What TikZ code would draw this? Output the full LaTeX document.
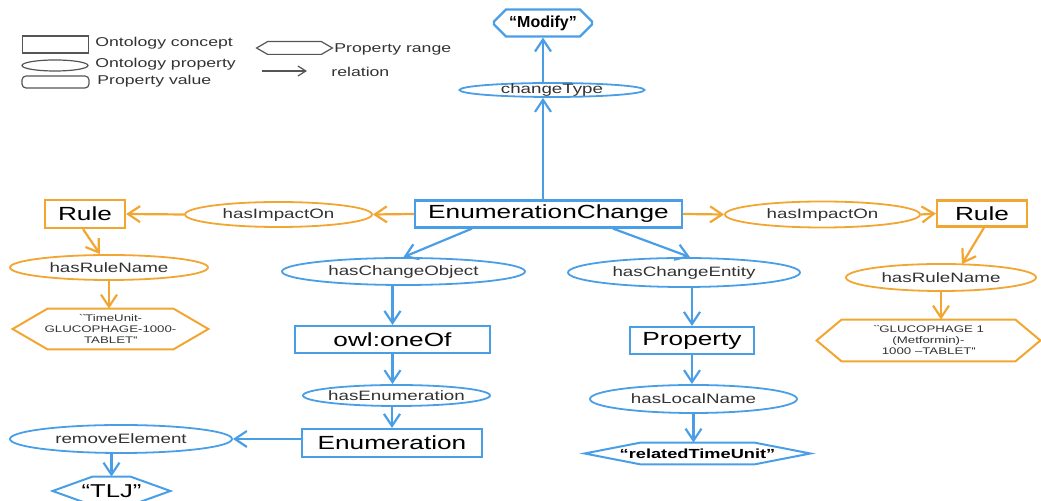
\documentclass[tikz,border=0pt]{standalone}
\usepackage{fontspec}
\setmainfont{Liberation Sans}[FakeStretch=1.38]
\newfontfamily\nostretch{Liberation Sans}
\usetikzlibrary{shapes.geometric,shapes.misc,arrows.meta,calc}
\definecolor{cblue}{RGB}{74,158,230}
\definecolor{corange}{RGB}{242,166,50}
\definecolor{cgray}{RGB}{85,85,85}
\definecolor{ctext}{RGB}{50,50,50}
\newcommand\fbig{\fontsize{9.5}{11}\selectfont}
\newcommand\fprop{\fontsize{6.8}{8}\selectfont}
\newcommand\fhexs{\fontsize{4.8}{5.5}\selectfont}
\newcommand\flegend{\fontsize{6.4}{7.5}\selectfont}
\newcommand\hexdraw[3]{\draw[#1] (#2.west) -- ([xshift=#3]#2.north west) -- ([xshift=-#3]#2.north east) -- (#2.east) -- ([xshift=-#3]#2.south east) -- ([xshift=#3]#2.south west) -- cycle;}
\tikzset{
  concept/.style={draw, rectangle, inner sep=0pt, line width=1.1pt, font=\fbig, text=black},
  bc/.style={concept, draw=cblue},
  oc/.style={concept, draw=corange},
  propE/.style={draw, ellipse, inner sep=0pt, line width=0.9pt},
  bp/.style={propE, draw=cblue},
  op/.style={propE, draw=corange},
  plab/.style={font=\fprop, text=ctext, inner sep=0pt},
  hexn/.style={rectangle, inner sep=0pt, align=center},
  barr/.style={draw=cblue, line width=1.1pt, -{Straight Barb[length=6pt,width=8pt]}},
  oarr/.style={draw=corange, line width=1.1pt, -{Straight Barb[length=6pt,width=8pt]}},
  legtext/.style={anchor=west, inner sep=0pt, font=\flegend, text=ctext},
  legshape/.style={draw=cgray, line width=0.6pt, inner sep=0pt},
}
\begin{document}
\begin{tikzpicture}[x=0.5pt,y=-0.5pt]
\useasboundingbox (0,0) rectangle (1041,501);

% ---------- legend ----------
\node[legshape, rectangle, minimum width=33pt, minimum height=8.5pt] (lgC) at (55.5,44.5) {};
\node[legtext] (lgCt) at (95,43) {Ontology concept};
\node[legshape, ellipse, minimum width=33pt, minimum height=5.5pt] (lgP) at (55,65.5) {};
\node[legtext] (lgPt) at (95,64.5) {Ontology property};
\node[legshape, rectangle, rounded corners=2pt, minimum width=33.5pt, minimum height=6pt] (lgV) at (55.5,82) {};
\node[legtext] (lgVt) at (97,81.5) {Property value};
\node[hexn, minimum width=37.5pt, minimum height=6pt] (lgR) at (294.5,48) {};
\hexdraw{draw=cgray, line width=0.6pt}{lgR}{5.5pt}
\node[legtext] (lgRt) at (334,49) {Property range};
\coordinate (lgA1) at (262,71);
\coordinate (lgA2) at (307,71);
\draw[draw=cgray, line width=0.6pt, -{Straight Barb[length=4pt,width=5pt]}] (lgA1) -- (lgA2);
\node[legtext] (lgAt) at (331,72) {relation};

% ---------- top ----------
\node[draw=cblue, line width=1.1pt, chamfered rectangle, chamfered rectangle xsep=3pt, chamfered rectangle ysep=3pt, inner sep=0pt, minimum width=49pt, minimum height=10pt, font=\nostretch\bfseries\fontsize{8}{9}\selectfont] (mod) at (543,23) {“Modify”};
\node[bp, minimum width=92.5pt, minimum height=7pt, label={[plab]center:changeType}] (ct) at (552,90) {};
\node[bc, minimum width=133.5pt, minimum height=13.5pt] (ec) at (548.5,214) {EnumerationChange};

% ---------- left rule branch ----------
\node[op, minimum width=93.5pt, minimum height=12.5pt, label={[plab]center:hasImpactOn}] (hioL) at (278.5,214.5) {};
\node[oc, minimum width=40pt, minimum height=14pt] (ruleL) at (85,214) {Rule};
\node[op, minimum width=99pt, minimum height=12.5pt, label={[plab]center:hasRuleName}] (hrnL) at (109,267.5) {};
\node[hexn, minimum width=97.5pt, minimum height=20pt, font=\fhexs, text=ctext] (hexL) at (110.5,329) {\textasciigrave\textasciigrave TimeUnit-\\GLUCOPHAGE-1000-\\TABLET\textquotesingle\textquotesingle};
\hexdraw{draw=corange, line width=1pt}{hexL}{17.5pt}

% ---------- right rule branch ----------
\node[op, minimum width=97.5pt, minimum height=13pt, label={[plab]center:hasImpactOn}] (hioR) at (822.5,214.5) {};
\node[oc, minimum width=45pt, minimum height=13pt] (ruleR) at (982,213.5) {Rule};
\node[op, minimum width=95pt, minimum height=13.5pt, label={[plab]center:hasRuleName}] (hrnR) at (941,277.5) {};
\node[hexn, minimum width=111.5pt, minimum height=20.5pt, font=\fhexs, text=ctext] (hexR) at (928.5,340.5) {\textasciigrave\textasciigrave GLUCOPHAGE 1\\(Metformin)-\\1000 –TABLET\textquotesingle\textquotesingle};
\hexdraw{draw=corange, line width=1pt}{hexR}{12.5pt}

% ---------- object branch ----------
\node[bp, minimum width=121.5pt, minimum height=13.5pt, label={[plab]center:hasChangeObject}] (hco) at (403.5,271.5) {};
\node[bc, minimum width=97.5pt, minimum height=13.5pt] (oneOf) at (392.5,339.5) {owl:oneOf};
\node[bp, minimum width=93.5pt, minimum height=10.5pt, label={[plab]center:hasEnumeration}] (hen) at (396.5,395.5) {};
\node[bc, minimum width=90pt, minimum height=14pt] (enum) at (392,443) {Enumeration};
\node[bp, minimum width=111pt, minimum height=14pt, label={[plab]center:removeElement}] (rem) at (121,439) {};
\node[hexn, minimum width=58.5pt, minimum height=14pt, font=\fontsize{9.3}{11}\selectfont] (tlj) at (111.5,491) {“TLJ”};
\hexdraw{draw=cblue, line width=1pt}{tlj}{20pt}

% ---------- entity branch ----------
\node[bp, minimum width=116pt, minimum height=14.5pt, label={[plab]center:hasChangeEntity}] (hce) at (684,272.5) {};
\node[bc, minimum width=62pt, minimum height=13.5pt] (prop) at (692,340.5) {Property};
\node[bp, minimum width=103.5pt, minimum height=14pt, label={[plab]center:hasLocalName}] (hln) at (693.5,399) {};
\node[hexn, minimum width=112.5pt, minimum height=10.5pt, font=\bfseries\fontsize{6.6}{8}\selectfont] (rtu) at (697.5,453.5) {“relatedTimeUnit”};
\hexdraw{draw=cblue, line width=1pt}{rtu}{28pt}

% ---------- connectors ----------
\draw[barr] (ec.north -| mod.south) -- (ct.south -| mod.south);
\draw[barr] (ct.north -| mod.south) -- (mod.south);
\draw[oarr] (ec.west) -- (hioL.east);
\draw[oarr] (hioL.west) -- (ruleL.east);
\draw[oarr] ($(ruleL.south)+(-2,0)$) -- ($(hrnL.north)+(-9,0)$);
\draw[oarr] (hrnL.south) -- (hrnL.south |- hexL.north);
\draw[oarr] (ec.east) -- (hioR.west);
\draw[oarr] (hioR.east) -- (ruleR.west);
\draw[oarr] ($(ruleR.south)+(2,0)$) -- ($(hrnR.north)+(21,1)$);
\draw[oarr] (hrnR.south) -- (hrnR.south |- hexR.north);
\draw[barr] ($(ec.south)+(-76.5,0)$) -- (hco.north);
\draw[barr] ($(ec.south)+(64.5,0)$) -- ($(hce.north)+(6,0)$);
\draw[barr] (oneOf.north |- hco.south) -- (oneOf.north);
\draw[barr] (prop.north |- hce.south) -- (prop.north);
\draw[barr] (oneOf.south) -- (oneOf.south |- hen.north);
\draw[barr] (enum.north |- hen.south) -- (enum.north);
\draw[barr] (enum.west |- rem.east) -- (rem.east);
\draw[barr] (tlj.north |- rem.south) -- (tlj.north);
\draw[barr] (prop.south) -- (prop.south |- hln.north);
\draw[barr] (hln.south) -- (hln.south |- rtu.north);
\end{tikzpicture}
\end{document}
